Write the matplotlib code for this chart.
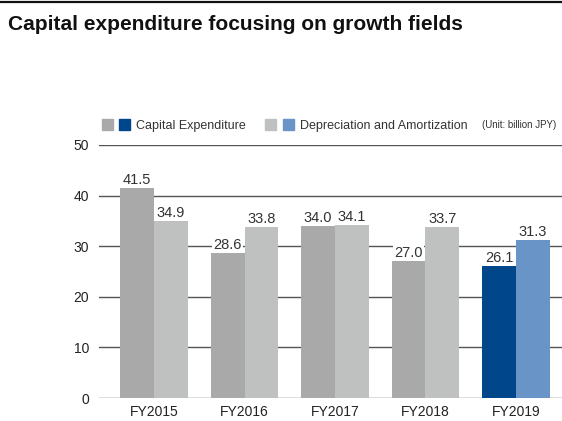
import numpy as np
import matplotlib
matplotlib.use("Agg")
import matplotlib.pyplot as plt
from matplotlib.patches import Rectangle
from matplotlib.lines import Line2D

plt.rcParams['font.family'] = ['Liberation Sans', 'DejaVu Sans']

years = ['FY2015', 'FY2016', 'FY2017', 'FY2018', 'FY2019']
capex = [41.5, 28.6, 34.0, 27.0, 26.1]
depreciation = [34.9, 33.8, 34.1, 33.7, 31.3]
capex_labels = ['41.5', '28.6', '34.0', '27.0', '26.1']
dep_labels = ['34.9', '33.8', '34.1', '33.7', '31.3']

# past years in grey, latest year in blue
capex_colors = ['#a8a9a8'] * 4 + ['#00468b']
dep_colors = ['#bfc1c0'] * 4 + ['#6894c8']

W, H = 562, 421
fig = plt.figure(figsize=(W / 100, H / 100), dpi=100)

# axes box in pixels: left 99, right 562, y=0 at 398, y=50 at 145
ax = fig.add_axes([99 / W, (H - 398) / H, (562 - 99) / W, (398 - 145) / H])

x = np.arange(len(years))
bw = 0.375
ax.bar(x - bw / 2, capex, bw, color=capex_colors, zorder=3)
ax.bar(x + bw / 2, depreciation, bw, color=dep_colors, zorder=3)

lbl_box = dict(facecolor='white', edgecolor='none', pad=0.6)
for i in range(len(years)):
    ax.text(x[i] - bw / 2, capex[i] + 0.2, capex_labels[i], ha='center', va='bottom',
            fontsize=10.5, color='#333333', bbox=lbl_box, zorder=2)
    ax.text(x[i] + bw / 2, depreciation[i] + 0.2, dep_labels[i], ha='center', va='bottom',
            fontsize=10.5, color='#333333', bbox=lbl_box, zorder=2)

ax.set_ylim(0, 50)
ax.set_xlim((99 - 154) / 90.5, (562 - 154) / 90.5)
ax.set_yticks([0, 10, 20, 30, 40, 50])
ax.yaxis.grid(True, color='#555555', linewidth=1.0, zorder=0)
ax.set_axisbelow(True)
ax.set_xticks(x)
ax.set_xticklabels(years)
ax.tick_params(axis='both', length=0, labelsize=10, colors='#222222')
ax.tick_params(axis='y', pad=7)
ax.tick_params(axis='x', pad=5)
for s in ax.spines.values():
    s.set_visible(False)

# top rule and title
fig.add_artist(Line2D([0, 1], [1 - 2 / H, 1 - 2 / H], transform=fig.transFigure,
                      color='#111111', linewidth=1.6))
fig.text(8 / W, 1 - 24 / H, 'Capital expenditure focusing on growth fields',
         fontsize=15, fontweight='bold', va='center', ha='left', color='#111111')

# legend drawn by hand
def square(px, color):
    fig.add_artist(Rectangle((px / W, 1 - 130 / H), 11 / W, 11 / H,
                             transform=fig.transFigure, color=color))

square(102, '#a8a9a8')
square(119, '#00468b')
fig.text(136 / W, 1 - 124.5 / H, 'Capital Expenditure', fontsize=9,
         va='center_baseline', color='#333333')
square(265, '#bfc1c0')
square(283, '#6894c8')
fig.text(300 / W, 1 - 124.5 / H, 'Depreciation and Amortization', fontsize=9,
         va='center_baseline', color='#333333')
fig.text(482 / W, 1 - 124.5 / H, '(Unit: billion JPY)', fontsize=7,
         va='center_baseline', color='#333333')

fig.savefig('out.png', dpi=100)
